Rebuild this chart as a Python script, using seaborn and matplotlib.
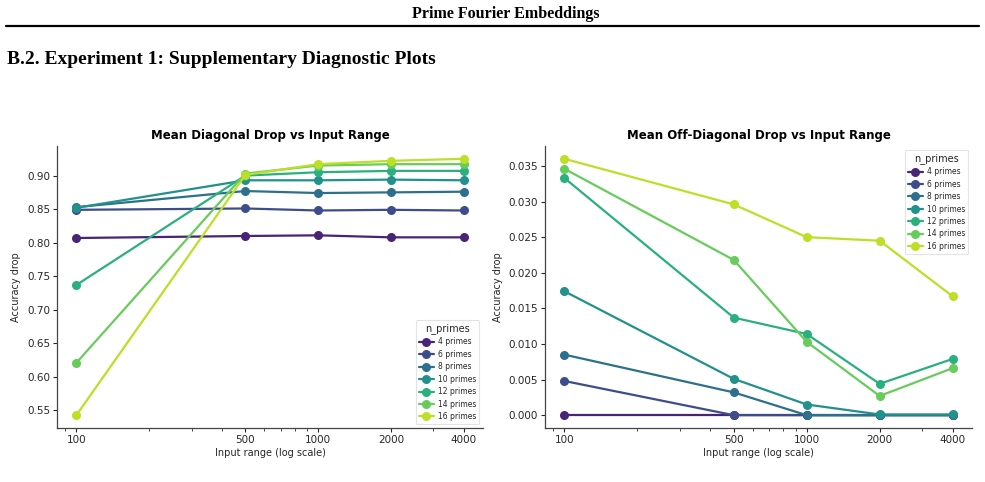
import numpy as np
import pandas as pd
import matplotlib
matplotlib.use("Agg")
import matplotlib.pyplot as plt
import seaborn as sns
from matplotlib.lines import Line2D

input_ranges = [100, 500, 1000, 2000, 4000]
prime_labels = ["4 primes", "6 primes", "8 primes", "10 primes", "12 primes", "14 primes", "16 primes"]

diag_4 = [0.807, 0.810, 0.811, 0.808, 0.808]
diag_6 = [0.849, 0.851, 0.848, 0.849, 0.848]
diag_8 = [0.853, 0.877, 0.874, 0.875, 0.876]
diag_10 = [0.852, 0.893, 0.893, 0.894, 0.893]
diag_12 = [0.737, 0.900, 0.905, 0.907, 0.907]
diag_14 = [0.621, 0.903, 0.915, 0.917, 0.917]
diag_16 = [0.543, 0.901, 0.917, 0.922, 0.925]

off_4 = [0.0000, 0.0000, 0.0000, 0.0000, 0.0000]
off_6 = [0.0048, 0.0000, 0.0000, 0.0000, 0.0000]
off_8 = [0.0085, 0.0032, 0.0000, 0.0000, 0.0000]
off_10 = [0.0174, 0.0051, 0.0015, 0.0001, 0.0001]
off_12 = [0.0333, 0.0137, 0.0114, 0.0044, 0.0079]
off_14 = [0.0346, 0.0218, 0.0103, 0.0027, 0.0066]
off_16 = [0.0360, 0.0296, 0.0250, 0.0245, 0.0167]

diag_series = [diag_4, diag_6, diag_8, diag_10, diag_12, diag_14, diag_16]
off_series = [off_4, off_6, off_8, off_10, off_12, off_14, off_16]


def make_df(series):
    rows = []
    for lab, vals in zip(prime_labels, series):
        for r, v in zip(input_ranges, vals):
            rows.append({"range": r, "drop": v, "n_primes": lab})
    return pd.DataFrame(rows)


sns.set_style("ticks")
plt.rcParams["font.family"] = ["DejaVu Sans"]

fig = plt.figure(figsize=(9.85, 4.82), dpi=100)
fig.patch.set_facecolor("white")

# Page header
fig.text(0.513, 0.970, "Prime Fourier Embeddings", ha="center", va="center",
         fontsize=11.5, fontweight="bold", family="Liberation Serif", color="black")
fig.add_artist(Line2D([6 / 985, 979 / 985], [1 - 26 / 482, 1 - 26 / 482],
                      color="black", lw=1.6, transform=fig.transFigure))
fig.text(7 / 985, 1 - 59 / 482, "B.2. Experiment 1: Supplementary Diagnostic Plots",
         ha="left", va="center", fontsize=14, fontweight="bold", family="Liberation Serif",
         color="black")

pal = [plt.cm.viridis(v) for v in np.linspace(0.1, 0.9, len(prime_labels))]

ax1 = fig.add_axes([57 / 985, 54 / 482, 426 / 985, 282 / 482])
ax2 = fig.add_axes([545 / 985, 54 / 482, 427 / 985, 282 / 482])

for ax, series, title, loc in [
    (ax1, diag_series, "Mean Diagonal Drop vs Input Range", "lower right"),
    (ax2, off_series, "Mean Off-Diagonal Drop vs Input Range", "upper right"),
]:
    df = make_df(series)
    sns.lineplot(data=df, x="range", y="drop", hue="n_primes", hue_order=prime_labels,
                 palette=pal, marker="o", markersize=6.5, markeredgewidth=0,
                 linewidth=1.6, ax=ax)
    ax.set_xscale("log")
    ax.set_xticks(input_ranges)
    ax.set_xticklabels([str(r) for r in input_ranges])
    ax.set_title(title, fontsize=8.5, fontweight="bold", pad=5, color="black")
    ax.set_xlabel("Input range (log scale)", fontsize=7, labelpad=2)
    ax.set_ylabel("Accuracy drop", fontsize=7, labelpad=4)
    ax.tick_params(axis="both", labelsize=7.5, length=3, width=0.8, pad=2)
    ax.tick_params(axis="x", which="minor", length=1.8, width=0.6)
    for s in ["left", "bottom"]:
        ax.spines[s].set_color("#444444")
        ax.spines[s].set_linewidth(0.9)
    sns.despine(ax=ax)
    leg = ax.legend(title="n_primes", loc=loc, fontsize=5.5, title_fontsize=7,
                    frameon=True, borderpad=0.4, labelspacing=0.45,
                    handlelength=2.0, handletextpad=0.5)
    leg.get_frame().set_edgecolor("#dddddd")
    leg.get_frame().set_linewidth(0.8)

ax2.yaxis.set_major_formatter(matplotlib.ticker.FormatStrFormatter("%.3f"))

fig.savefig("out.png", dpi=100, facecolor="white")
